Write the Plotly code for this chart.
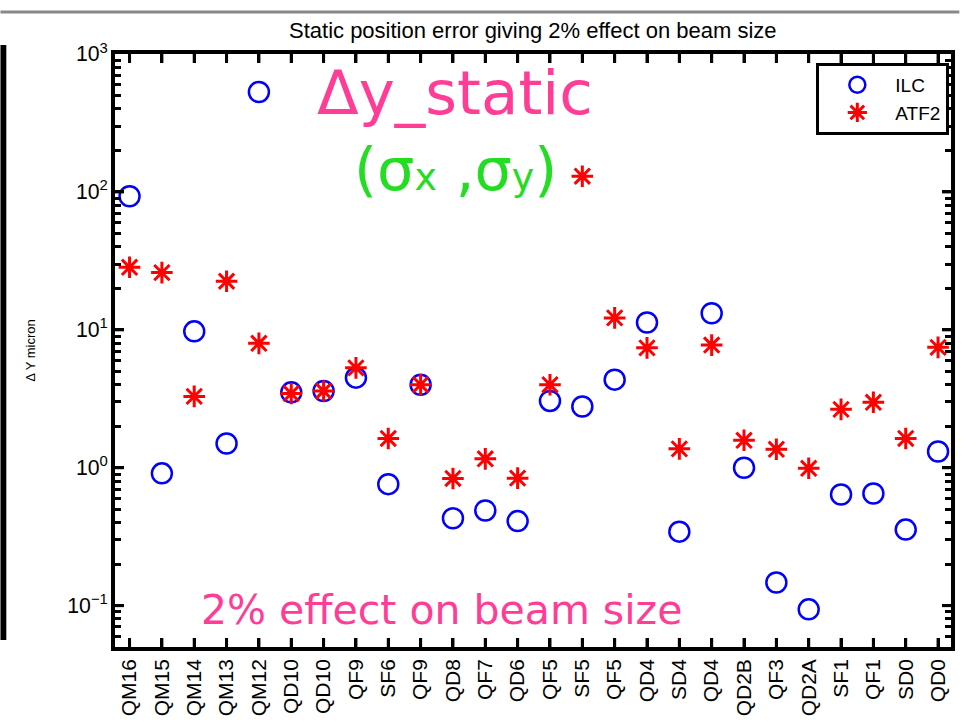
import math
import plotly.graph_objects as go

categories = ["QM16", "QM15", "QM14", "QM13", "QM12", "QD10", "QD10", "QF9", "SF6", "QF9",
              "QD8", "QF7", "QD6", "QF5", "SF5", "QF5", "QD4", "SD4", "QD4", "QD2B",
              "QF3", "QD2A", "SF1", "QF1", "SD0", "QD0"]
positions = list(range(1, len(categories) + 1))

ilc_values = [93, 0.91, 9.75, 1.5, 530, 3.52, 3.6, 4.5, 0.76, 4.0,
              0.43, 0.49, 0.41, 3.05, 2.78, 4.35, 11.3, 0.344, 13.2, 1.0,
              0.147, 0.094, 0.64, 0.65, 0.356, 1.31]
atf2_values = [28.4, 26, 3.29, 22.5, 7.98, 3.45, 3.6, 5.3, 1.63, 4.0,
               0.836, 1.16, 0.84, 4.0, 130, 12.2, 7.4, 1.37, 7.75, 1.58,
               1.36, 0.99, 2.65, 2.98, 1.63, 7.46]

ytick_alias = {"1": "10<sup>0</sup>", "10": "10<sup>1</sup>"}
y_log_range = [-1.3, 3.0]
major_y = [10 ** e for e in range(-1, 4)]
minor_y = [m * 10 ** e for e in range(-2, 3) for m in range(2, 10)]

W, H = 961, 726
ML, MR, MT, MB = 115, 6, 54, 79
plot_w, plot_h = W - ML - MR, H - MT - MB

fig = go.Figure()
fig.add_trace(go.Scatter(
    x=positions, y=ilc_values, mode="markers", name="ILC",
    marker=dict(symbol="circle-open", size=20, color="#0000ff", line=dict(width=2.5, color="#0000ff")),
))
fig.add_trace(go.Scatter(
    x=positions, y=atf2_values, mode="markers", name="ATF2",
    marker=dict(symbol="asterisk-open", size=18, color="#ff0000", line=dict(width=3, color="#ff0000")),
))

fig.update_layout(
    width=W, height=H,
    margin=dict(l=ML, r=MR, t=MT, b=MB),
    paper_bgcolor="white", plot_bgcolor="white",
    font=dict(family="Liberation Sans, Arial, sans-serif", color="black"),
    showlegend=True,
    legend=dict(
        x=0.998, y=0.985, xanchor="right", yanchor="top",
        bgcolor="white", bordercolor="black", borderwidth=3,
        font=dict(size=19, family="Liberation Sans"), itemwidth=66,
        tracegroupgap=0,
    ),
)

fig.update_xaxes(
    range=[0.55, 26.4],
    tickmode="array", tickvals=positions, ticktext=categories,
    tickangle=-90, tickfont=dict(size=21, family="Liberation Sans"),
    ticks="inside", ticklen=9, tickwidth=3, tickcolor="black",
    showline=True, linewidth=3.5, linecolor="black", mirror="ticks",
    showgrid=False, zeroline=False,
)
fig.update_yaxes(
    type="log", range=y_log_range,
    tickmode="linear", tick0=0, dtick=1, exponentformat="power",
    labelalias=ytick_alias,
    tickfont=dict(size=17, family="Liberation Sans"),
    ticks="inside", ticklen=9, tickwidth=3, tickcolor="black",
    minor=dict(dtick="D1", ticks="inside", ticklen=6, tickwidth=2.5, tickcolor="black", showgrid=False),
    showline=True, linewidth=3.5, linecolor="black", mirror="ticks",
    showgrid=False, zeroline=False,
    title=dict(text="\u0394 Y micron", font=dict(size=13, family="Liberation Sans"), standoff=30),
)

# explicit inside tick marks (frame decoration)
def ypaper(v):
    return (math.log10(v) - y_log_range[0]) / (y_log_range[1] - y_log_range[0])

tick_style = dict(color="black", width=3)
xlen = 9 / plot_h
for p in positions:
    fig.add_shape(type="line", xref="x", yref="paper", x0=p, x1=p, y0=0, y1=xlen, line=tick_style)
    fig.add_shape(type="line", xref="x", yref="paper", x0=p, x1=p, y0=1, y1=1 - xlen, line=tick_style)
for v, ln, wd in [(v, 9, 3) for v in major_y] + [(v, 5, 2) for v in minor_y]:
    yp = ypaper(v)
    if 0 < yp < 1:
        fig.add_shape(type="line", xref="paper", yref="paper", x0=0, x1=ln / plot_w, y0=yp, y1=yp,
                      line=dict(color="black", width=wd))
        fig.add_shape(type="line", xref="paper", yref="paper", x0=1, x1=1 - ln / plot_w, y0=yp, y1=yp,
                      line=dict(color="black", width=wd))

# title
fig.add_annotation(text="Static position error giving 2% effect on beam size",
                   xref="paper", yref="paper", x=0.5, y=1.04, xanchor="center", yanchor="middle",
                   showarrow=False, font=dict(size=22, family="Liberation Sans", color="black"))
# overlay texts
fig.add_annotation(text="\u0394y_static", xref="paper", yref="paper", x=0.407, y=0.935,
                   xanchor="center", yanchor="middle", showarrow=False,
                   font=dict(size=61, family="DejaVu Sans", color="#ff3c96"))
fig.add_annotation(text="(\u03c3<span style='font-size:38px'>x</span> ,\u03c3<span style='font-size:38px'>y</span>)",
                   xref="paper", yref="paper", x=0.407, y=0.805,
                   xanchor="center", yanchor="middle", showarrow=False,
                   font=dict(size=59, family="DejaVu Sans", color="#22dd22"))
fig.add_annotation(text="2% effect on beam size", xref="paper", yref="paper", x=0.39, y=0.063,
                   xanchor="center", yanchor="middle", showarrow=False,
                   font=dict(size=41, family="DejaVu Sans", color="#ff3c96"))

# slide decorations
fig.add_shape(type="line", xref="paper", yref="paper", x0=-0.137, x1=1.01, y0=1.0708, y1=1.0708,
              line=dict(color="#888888", width=3))
fig.add_shape(type="rect", xref="paper", yref="paper", x0=-0.137, x1=-0.130, y0=0.012, y1=1.015,
              line=dict(width=0), fillcolor="black")

fig.write_html("out.html")
